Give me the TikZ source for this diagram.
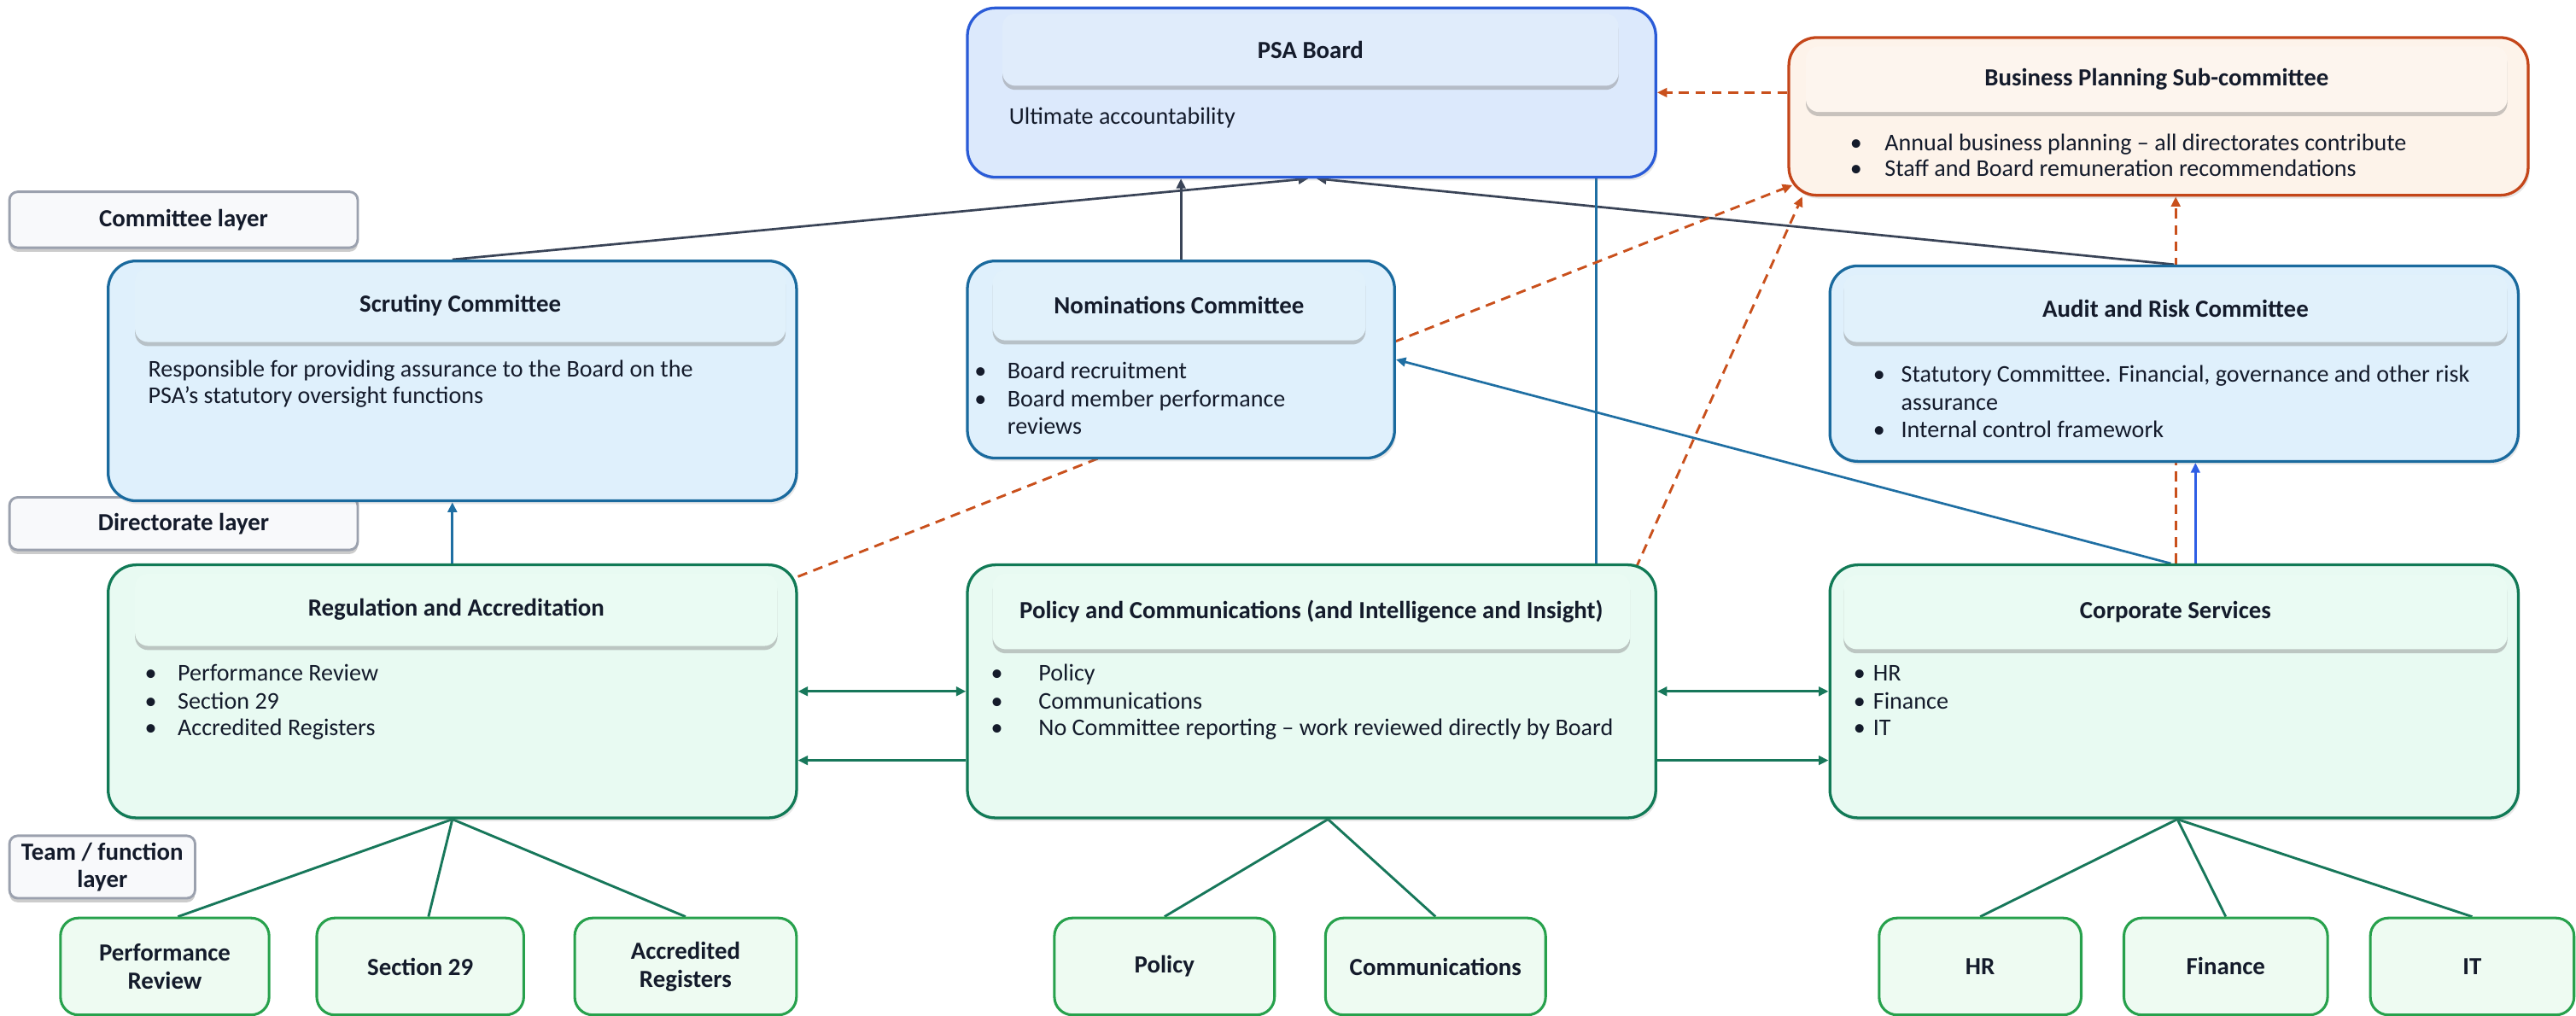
\documentclass[tikz,border=0pt]{standalone}
\usepackage{fontspec}
\setmainfont{Carlito}
\usetikzlibrary{arrows.meta,shadows,calc}
\pgfdeclarelayer{bg}
\pgfsetlayers{bg,main}
\definecolor{txt}{HTML}{141B2B}
\definecolor{psafill}{HTML}{DCE9FC}
\definecolor{psaborder}{HTML}{2A5BD7}
\definecolor{psahdr}{HTML}{E0ECFB}
\definecolor{bpfill}{HTML}{FDF3EA}
\definecolor{bpborder}{HTML}{C4461A}
\definecolor{bphdr}{HTML}{FDF5EE}
\definecolor{comfill}{HTML}{DFF0FC}
\definecolor{comborder}{HTML}{1A6A9E}
\definecolor{comhdr}{HTML}{E1F1FB}
\definecolor{dirfill}{HTML}{E8FAF2}
\definecolor{dirborder}{HTML}{117A56}
\definecolor{dirhdr}{HTML}{EAFBF3}
\definecolor{teamfill}{HTML}{EEFBF2}
\definecolor{teamborder}{HTML}{27A14C}
\definecolor{layfill}{HTML}{F8F9FB}
\definecolor{layborder}{HTML}{9BA1AE}
\definecolor{darkarr}{HTML}{3A4457}
\definecolor{bluearr}{HTML}{1F6FA3}
\definecolor{brightblue}{HTML}{2E5EE5}
\definecolor{orangearr}{HTML}{C9501C}
\definecolor{greenarr}{HTML}{17775A}
\begin{document}
\begin{tikzpicture}[x=1pt,y=-1pt,
  every node/.style={text=txt},
  outerbox/.style={draw, line width=1.7pt, rounded corners=17pt, anchor=north west, inner sep=0pt,
     drop shadow={opacity=0.18, shadow xshift=1pt, shadow yshift=-2pt}},
  hdrbox/.style={rounded corners=8pt, anchor=north west, inner sep=0pt,
     font=\fontsize{15}{17}\selectfont\bfseries,
     drop shadow={opacity=0.42, shadow xshift=0pt, shadow yshift=-2.5pt}},
  bodytxt/.style={anchor=west, inner sep=0pt, font=\fontsize{14.6}{17}\selectfont, text height=10pt, text depth=3pt},
  bul/.style={anchor=west, inner sep=0pt, font=\fontsize{14.6}{17}\selectfont, text height=10pt, text depth=3pt},
  layerbox/.style={draw=layborder, fill=layfill, line width=1.5pt, rounded corners=5pt, anchor=north west, inner sep=0pt,
     align=center, font=\fontsize{15}{16.5}\selectfont\bfseries,
     drop shadow={opacity=0.4, shadow xshift=0pt, shadow yshift=-2.5pt}},
  teambox/.style={draw=teamborder, fill=teamfill, line width=1.6pt, rounded corners=11pt, anchor=north west, inner sep=0pt,
     align=center, font=\fontsize{15}{17}\selectfont\bfseries, minimum height=59pt},
  darkline/.style={draw=darkarr, line width=1.4pt, -{Triangle[length=6pt,width=5.5pt]}},
  blueline/.style={draw=bluearr, line width=1.4pt, -{Triangle[length=6pt,width=5.5pt]}},
  orangeline/.style={draw=orangearr, line width=1.5pt, dash pattern=on 6pt off 4pt, -{Triangle[length=6pt,width=5.5pt]}},
  greenline/.style={draw=greenarr, line width=1.5pt},
  greenarrow/.style={draw=greenarr, line width=1.5pt, -{Triangle[length=6pt,width=5.5pt]}},
  greendouble/.style={draw=greenarr, line width=1.5pt, {Triangle[length=6pt,width=5.5pt]}-{Triangle[length=6pt,width=5.5pt]}}
]
\useasboundingbox (0,0) rectangle (1568,618);

% ---------- PSA Board ----------
\node[outerbox, draw=psaborder, fill=psafill, minimum width=419pt, minimum height=103pt] (psa) at (588,4) {};
\node[hdrbox, fill=psahdr, minimum width=375pt, minimum height=44pt] (psah) at (610,8) {PSA Board};
\node[bodytxt] (psat) at (614,72) {Ultimate accountability};

% ---------- Business Planning ----------
\node[outerbox, draw=bpborder, fill=bpfill, minimum width=450pt, minimum height=96pt] (bp) at (1088,22) {};
\node[hdrbox, fill=bphdr, minimum width=427pt, minimum height=40pt] (bph) at (1099,28) {Business Planning Sub-committee};
\node[bul] (bpb1) at (1126,88) {•};
\node[bodytxt] (bpt1) at (1147,88) {Annual business planning – all directorates contribute};
\node[bul] (bpb2) at (1126,104) {•};
\node[bodytxt] (bpt2) at (1147,104) {Staff and Board remuneration recommendations};

% ---------- Layer labels ----------
\node[layerbox, minimum width=212pt, minimum height=34pt] (lay1) at (5,116) {Committee layer};
\node[layerbox, minimum width=212pt, minimum height=32pt] (lay2) at (5,302) {Directorate layer};
\node[layerbox, minimum width=113pt, minimum height=38pt] (lay3) at (5,508) {Team / function\\layer};

% ---------- Scrutiny ----------
\node[outerbox, draw=comborder, fill=comfill, minimum width=419pt, minimum height=146pt] (scr) at (65,158) {};
\node[hdrbox, fill=comhdr, minimum width=396pt, minimum height=45pt] (scrh) at (82,163) {Scrutiny Committee};
\node[bodytxt] (scrt1) at (90,226) {Responsible for providing assurance to the Board on the};
\node[bodytxt] (scrt2) at (90,242) {PSA’s statutory oversight functions};

% ---------- Nominations ----------
\node[outerbox, draw=comborder, fill=comfill, minimum width=260pt, minimum height=120pt] (nom) at (588,158) {};
\node[hdrbox, fill=comhdr, minimum width=227pt, minimum height=43pt] (nomh) at (604,164) {Nominations Committee};
\node[bul] (nomb1) at (593,227) {•};
\node[bodytxt] (nomt1) at (613,227) {Board recruitment};
\node[bul] (nomb2) at (593,244) {•};
\node[bodytxt] (nomt2) at (613,244) {Board member performance};
\node[bodytxt] (nomt3) at (613,261) {reviews};

% ---------- Audit and Risk ----------
\node[outerbox, draw=comborder, fill=comfill, minimum width=419pt, minimum height=119pt] (aud) at (1113,161) {};
\node[hdrbox, fill=comhdr, minimum width=404pt, minimum height=41pt] (audh) at (1122,167) {Audit and Risk Committee};
\node[bul] (audb1) at (1140,229) {•};
\node[bodytxt] (audt1) at (1157,229) {Statutory Committee. Financial, governance and other risk};
\node[bodytxt] (audt2) at (1157,246) {assurance};
\node[bul] (audb2) at (1140,263) {•};
\node[bodytxt] (audt3) at (1157,263) {Internal control framework};

% ---------- Regulation and Accreditation ----------
\node[outerbox, draw=dirborder, fill=dirfill, minimum width=419pt, minimum height=154pt] (reg) at (65,343) {};
\node[hdrbox, fill=dirhdr, minimum width=391pt, minimum height=44pt] (regh) at (82,349) {Regulation and Accreditation};
\node[bul] (regb1) at (88,411) {•};
\node[bodytxt] (regt1) at (108,411) {Performance Review};
\node[bul] (regb2) at (88,428) {•};
\node[bodytxt] (regt2) at (108,428) {Section 29};
\node[bul] (regb3) at (88,444) {•};
\node[bodytxt] (regt3) at (108,444) {Accredited Registers};

% ---------- Policy and Communications ----------
\node[outerbox, draw=dirborder, fill=dirfill, minimum width=419pt, minimum height=154pt] (pol) at (588,343) {};
\node[hdrbox, fill=dirhdr, minimum width=388pt, minimum height=46pt] (polh) at (604,349) {Policy and Communications (and Intelligence and Insight)};
\node[bul] (polb1) at (603,411) {•};
\node[bodytxt] (polt1) at (632,411) {Policy};
\node[bul] (polb2) at (603,428) {•};
\node[bodytxt] (polt2) at (632,428) {Communications};
\node[bul] (polb3) at (603,444) {•};
\node[bodytxt] (polt3) at (632,444) {No Committee reporting – work reviewed directly by Board};

% ---------- Corporate Services ----------
\node[outerbox, draw=dirborder, fill=dirfill, minimum width=419pt, minimum height=154pt] (corp) at (1113,343) {};
\node[hdrbox, fill=dirhdr, minimum width=404pt, minimum height=45pt] (corph) at (1122,350) {Corporate Services};
\node[bul] (corpb1) at (1128,411) {•};
\node[bodytxt] (corpt1) at (1140,411) {HR};
\node[bul] (corpb2) at (1128,428) {•};
\node[bodytxt] (corpt2) at (1140,428) {Finance};
\node[bul] (corpb3) at (1128,444) {•};
\node[bodytxt] (corpt3) at (1140,444) {IT};

% ---------- Team boxes ----------
\node[teambox, minimum width=127pt] (tpr) at (36,558) {Performance\\Review};
\node[teambox, minimum width=126pt] (ts29) at (192,558) {Section 29};
\node[teambox, minimum width=135pt] (tacc) at (349,558) {Accredited\\Registers};
\node[teambox, minimum width=134pt] (tpol) at (641,558) {Policy};
\node[teambox, minimum width=134pt] (tcom) at (806,558) {Communications};
\node[teambox, minimum width=123pt] (thr) at (1143,558) {HR};
\node[teambox, minimum width=124pt] (tfin) at (1292,558) {Finance};
\node[teambox, minimum width=124pt] (tit) at (1442,558) {IT};

% ---------- Connectors ----------
\begin{pgfonlayer}{bg}
  % to PSA board
  \draw[darkline] (scr.north) -- ([xshift=-2pt]psa.south);
  \draw[darkline] (nom.north) -- (nom.north |- psa.south);
  \draw[darkline] (aud.north) -- ([xshift=3pt]psa.south);
  \draw[bluearr, line width=1.4pt] ($(psa.south east)+(-37,0)$) -- ($(pol.north east)+(-37,0)$);
  % directorate to committees
  \draw[blueline] (reg.north) -- (scr.south);
  \draw[blueline] ([xshift=-2pt]corp.north) -- (nom.east);
  \draw[blueline, draw=brightblue] ([xshift=13pt]corp.north) -- ([xshift=13pt]aud.south);
  % business planning (dashed)
  \draw[orangeline] ($(reg.north east)+(0,8)$) -- ($(bp.south west)+(3,-7)$);
  \draw[orangeline] ($(pol.north east)+(-13,3)$) -- ($(bp.south west)+(9,0)$);
  \draw[orangeline] ([xshift=1pt]corp.north) -- ([xshift=1pt]corp.north |- bp.south);
  \draw[orangeline] (bp.west |- psa.east) -- (psa.east);
  % between directorates
  \draw[greendouble] (reg.east) -- (pol.west);
  \draw[greenarrow] ($(pol.west)+(0,42)$) -- ($(reg.east)+(0,42)$);
  \draw[greendouble] (pol.east) -- (corp.west);
  \draw[greenarrow] ($(pol.east)+(0,42)$) -- ($(corp.west)+(0,42)$);
  % tree lines
  \draw[greenline] (reg.south) -- ($(tpr.north)+(8,0)$);
  \draw[greenline] (reg.south) -- ($(ts29.north)+(5,0)$);
  \draw[greenline] (reg.south) -- (tacc.north);
  \draw[greenline] ($(pol.south)+(10,0)$) -- (tpol.north);
  \draw[greenline] ($(pol.south)+(10,0)$) -- (tcom.north);
  \draw[greenline] ([xshift=2pt]corp.south) -- (thr.north);
  \draw[greenline] ([xshift=2pt]corp.south) -- (tfin.north);
  \draw[greenline] ([xshift=2pt]corp.south) -- (tit.north);
\end{pgfonlayer}
\end{tikzpicture}
\end{document}
